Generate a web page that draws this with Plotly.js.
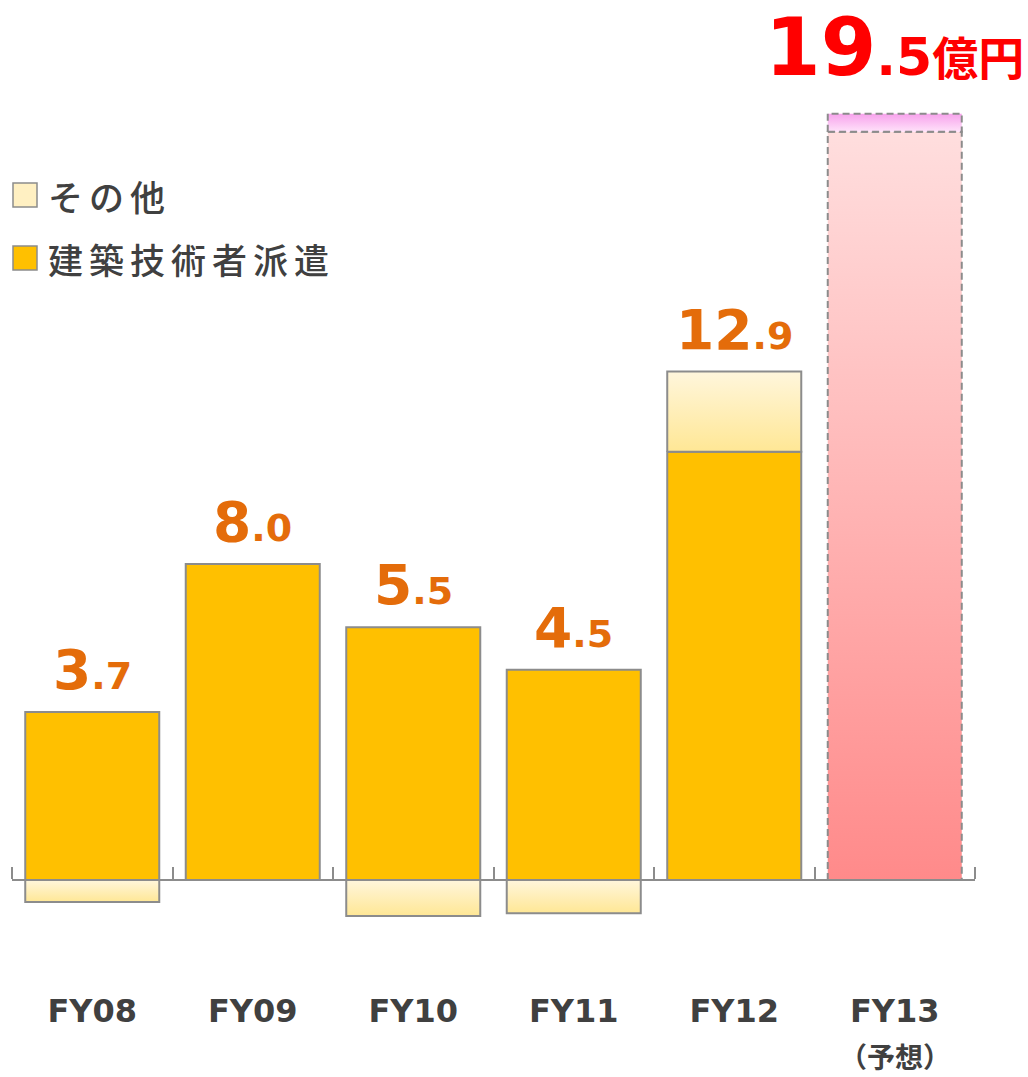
<!DOCTYPE html>
<html>
<head>
<meta charset="utf-8">
<script src="https://cdn.plot.ly/plotly-3.0.1.min.js"></script>
<style>
html,body{margin:0;padding:0;background:#fff;}
#chart{width:1028px;height:1077px;}
</style>
</head>
<body>
<div id="chart"></div>
<script>
// ---- data (億円) ----
const categories = ['FY08', 'FY09', 'FY10', 'FY11', 'FY12', 'FY13'];
const tickLabels = ['FY08', 'FY09', 'FY10', 'FY11', 'FY12', 'FY13'];
const forecastNote = '（予想）';
const dispatchValues = [4.25, 8.0, 6.4, 5.32, 10.84, null];   // 建築技術者派遣
const otherValues = [-0.56, 0, -0.91, -0.84, 2.03, null];     // その他
const forecastBase = [null, null, null, null, null, 18.94];   // FY13 予想
const forecastExtra = [null, null, null, null, null, 0.46];   // FY13 上乗せ
const totalLabels = ['3.7', '8.0', '5.5', '4.5', '12.9', '19.5'];
const unitLabel = '億円';
const legendNames = ['その他', '建築技術者派遣'];

// ---- styles ----
const BAR_W = 0.835;
const H = BAR_W / 2;
const EDGE = '#8c8c8c';
const MAIN_COLOR = '#ffc000';
const OTHER_GRAD = [[0, '#ffe795'], [1, '#fff6dc']];
const FC_GRAD = [[0, '#ff8a8a'], [1, '#ffdede']];
const FC_EXTRA_GRAD = [[0, '#ffe2fa'], [1, '#f7a2ec']];
const LABEL_COLOR = '#e46c0a';
const TEXT_COLOR = '#404040';

const xIdx = categories.map((c, i) => i);
const yMax = 22.278, yMin = -3.469;
const axisPos = (0 - yMin) / (yMax - yMin);

function rectTrace(i, y0, y1, grad, dash) {
  return {
    type: 'scatter', mode: 'lines', fill: 'toself',
    x: [i - H, i - H, i + H, i + H, i - H],
    y: [y0, y1, y1, y0, y0],
    fillgradient: {type: 'vertical', colorscale: grad},
    line: {color: EDGE, width: 2, dash: dash || 'solid'},
    hoverinfo: 'skip', showlegend: false
  };
}

const traces = [];
traces.push({
  type: 'bar', name: legendNames[1],
  x: xIdx, y: dispatchValues, width: BAR_W,
  marker: {color: MAIN_COLOR, line: {color: EDGE, width: 2}},
  showlegend: false, hoverinfo: 'x+y'
});
xIdx.forEach(i => {
  const v = otherValues[i];
  if (v !== null && v !== 0) {
    const base = v > 0 ? dispatchValues[i] : 0;
    traces.push(rectTrace(i, base, base + v, OTHER_GRAD));
  }
  if (forecastBase[i] !== null) {
    traces.push(rectTrace(i, 0, forecastBase[i], FC_GRAD, '7px,4px'));
    traces.push(rectTrace(i, forecastBase[i], forecastBase[i] + forecastExtra[i], FC_EXTRA_GRAD, '7px,4px'));
  }
});

// ---- value labels ----
const annotations = [];
xIdx.forEach(i => {
  const parts = totalLabels[i].split('.');
  if (forecastBase[i] === null) {
    const top = dispatchValues[i] + Math.max(otherValues[i], 0);
    annotations.push({
      x: i, y: top, xref: 'x', yref: 'y', xanchor: 'center', yanchor: 'bottom',
      yshift: 8, showarrow: false,
      text: parts[0] + '<span style="font-size:38px">.' + parts[1] + '</span>',
      font: {family: 'DejaVu Sans', size: 55, color: LABEL_COLOR, weight: 'bold'}
    });
  } else {
    const top = forecastBase[i] + forecastExtra[i];
    annotations.push({
      x: i, y: top, xref: 'x', yref: 'y', xanchor: 'center', yanchor: 'bottom',
      yshift: 18, showarrow: false,
      text: parts[0] + '<span style="font-size:52px">.' + parts[1] +
        '</span><span style="font-size:46px;font-family:Noto Sans CJK JP">' + unitLabel + '</span>',
      font: {family: 'DejaVu Sans', size: 80, color: '#ff0000', weight: 'bold'}
    });
    annotations.push({
      x: i, y: -0.038, xref: 'x', yref: 'paper', xanchor: 'center', yanchor: 'middle',
      showarrow: false, borderpad: 0, text: forecastNote,
      font: {family: 'Noto Sans CJK JP', size: 28, color: TEXT_COLOR, weight: 'bold'}
    });
  }
});

// ---- legend (manual, large swatches) ----
const legendRows = [
  {name: legendNames[0], color: '#fff0c2', yc: 195},
  {name: legendNames[1], color: MAIN_COLOR, yc: 258}
];
const plotH = 1017;
const shapes = [];
legendRows.forEach(r => {
  shapes.push({
    type: 'rect', xref: 'paper', yref: 'paper',
    x0: (13 - 12) / 963, x1: (37 - 12) / 963,
    y0: 1 - (r.yc + 12) / plotH, y1: 1 - (r.yc - 12) / plotH,
    fillcolor: r.color, line: {color: EDGE, width: 1.5}
  });
  annotations.push({
    x: (46 - 12) / 963, y: 1 - r.yc / plotH, xref: 'paper', yref: 'paper',
    xanchor: 'left', yanchor: 'middle', showarrow: false,
    text: '<span style="letter-spacing:6px">' + r.name + '</span>',
    font: {family: 'Noto Sans CJK JP', size: 35, color: TEXT_COLOR, weight: 500}
  });
});

const layout = {
  width: 1028, height: 1077,
  margin: {l: 12, r: 53, t: 0, b: 60},
  paper_bgcolor: '#ffffff', plot_bgcolor: '#ffffff',
  showlegend: false,
  xaxis: {
    range: [-0.5, 5.5], anchor: 'free', position: axisPos,
    showline: true, linecolor: EDGE, linewidth: 2,
    showgrid: false, zeroline: false,
    tickmode: 'array', tickvals: xIdx, ticktext: tickLabels,
    ticks: '', ticklabelstandoff: 103,
    tickfont: {family: 'DejaVu Sans', size: 32, color: TEXT_COLOR, weight: 'bold'},
    minor: {tickmode: 'linear', tick0: -0.5, dtick: 1, ticks: 'inside', ticklen: 12, tickcolor: EDGE, tickwidth: 2},
    fixedrange: true
  },
  yaxis: {
    range: [yMin, yMax], visible: false, showgrid: false, zeroline: false, fixedrange: true
  },
  shapes: shapes,
  annotations: annotations
};

Plotly.newPlot('chart', traces, layout, {displayModeBar: false, staticPlot: true});
</script>
</body>
</html>
